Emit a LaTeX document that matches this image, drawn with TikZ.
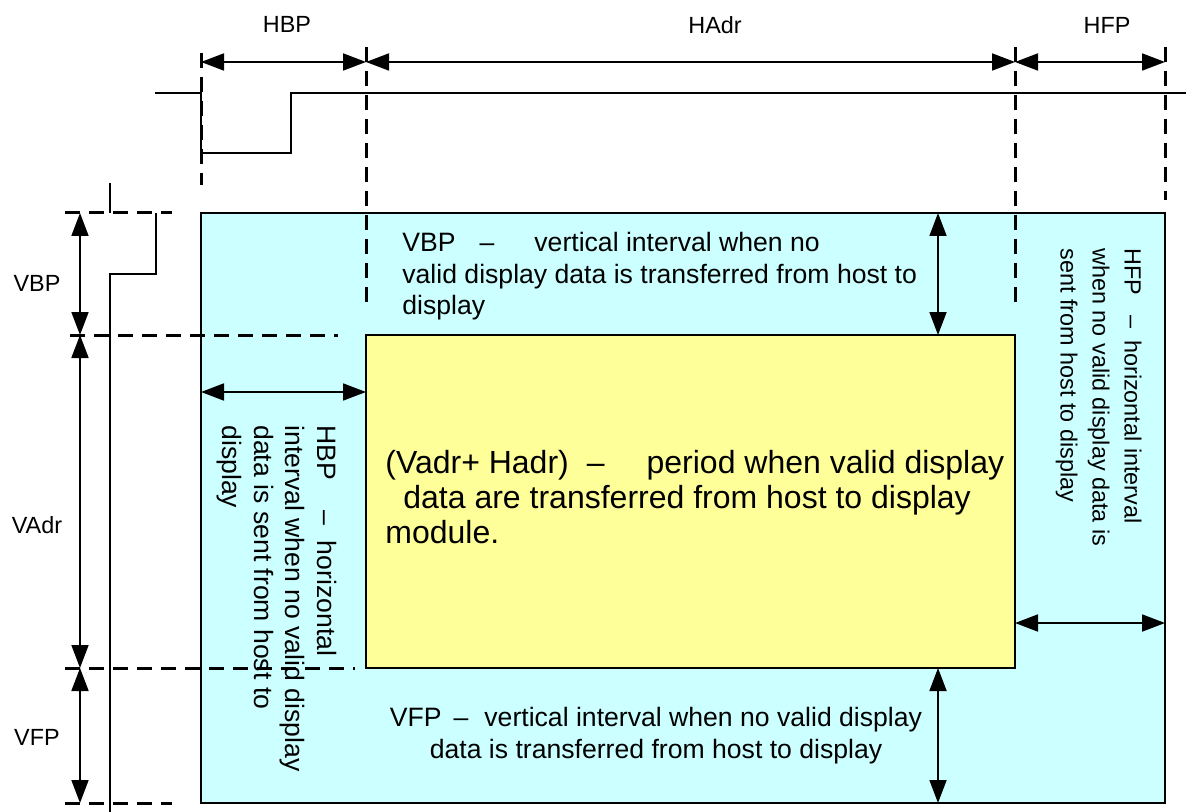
\documentclass[tikz,border=0pt]{standalone}
\usepackage{fontspec}
\setmainfont{Liberation Sans}
\usetikzlibrary{arrows.meta,positioning}

\definecolor{porchcyan}{RGB}{204,255,255}
\definecolor{activeyellow}{RGB}{255,255,153}

\begin{document}
\begin{tikzpicture}[x=0.5pt, y=-0.5pt,
    dim/.style={{Triangle[length=11.5pt,width=8.5pt]}-{Triangle[length=11.5pt,width=8.5pt]}, line width=0.9pt},
    guide/.style={line width=1.5pt, dash pattern=on 7.5pt off 4.5pt},
    signal/.style={line width=1pt},
    tag/.style={font=\fontsize{11.7}{14}\selectfont, inner sep=0pt},
    note/.style={font=\fontsize{13.3}{15.8}\selectfont, align=left, inner sep=0pt}]

\useasboundingbox (0,0) rectangle (1186,812);

\draw[fill=porchcyan, line width=0.9pt] (201,213) rectangle (1165,803);
\draw[fill=activeyellow, line width=0.9pt] (366,335) rectangle (1015,668);

\coordinate (h0) at (201,62);
\coordinate (h1) at (366,62);
\coordinate (h2) at (1015,62);
\coordinate (h3) at (1165,62);
\coordinate (v0) at (80,213);
\coordinate (v1) at (80,335);
\coordinate (v2) at (80,668);
\coordinate (v3) at (80,803);

% guides
\draw[guide] (201,53) -- (201,185);
\draw[guide] (366,47) -- (366,305);
\draw[guide] (1015,47) -- (1015,305);
\draw[guide] (1165,47) -- (1165,200);
\draw[guide] (65,213) -- (172,213);
\draw[guide] (70,335) -- (338,335);
\draw[guide] (65,668) -- (355,668);
\draw[guide] (65,803) -- (172,803);

% sync signals
\draw[signal] (155,93) -- (201,93) -- (201,153) -- (291,153) -- (291,93) -- (1186,93);
\draw[signal] (110,183) -- (110,213);
\draw[signal] (156,213) -- (156,274) -- (110,274) -- (110,812);

\draw[dim] (h0) -- (h1);
\draw[dim] (h1) -- (h2);
\draw[dim] (h2) -- (h3);
\draw[dim] (v0) -- (v1);
\draw[dim] (v1) -- (v2);
\draw[dim] (v2) -- (v3);

\node[tag] (hbp) at (287,24) {HBP};
\node[tag] (hadr) at (715,25) {HAdr};
\node[tag] (hfp) at (1107,25) {HFP};
\node[tag] (vbp) at (37,283) {VBP};
\node[tag] (vadr) at (37,525) {VAdr};
\node[tag] (vfp) at (37,737) {VFP};

\coordinate (vbp-a) at (938,213);
\coordinate (vbp-b) at (938,335);
\coordinate (vfp-a) at (938,668);
\coordinate (vfp-b) at (938,803);
\coordinate (hbp-a) at (201,392);
\coordinate (hbp-b) at (366,392);
\coordinate (hfp-a) at (1015,623);
\coordinate (hfp-b) at (1165,623);
\draw[dim] (vbp-a) -- (vbp-b);
\draw[dim] (vfp-a) -- (vfp-b);
\draw[dim] (hbp-a) -- (hbp-b);
\draw[dim] (hfp-a) -- (hfp-b);

\node[note, anchor=north west] (vbp-note) at (402,232)
  {VBP\hspace{12pt}–\hspace{20pt}vertical interval when no\\valid display data is transferred from host to\\display};
\node[note, align=center, anchor=north] (vfp-note) at (656,707)
  {VFP\hspace{6pt}–\hspace{8pt}vertical interval when no valid display\\data is transferred from host to display};
\node[note, rotate=-90, anchor=north west] (hbp-note) at (337,425)
  {HBP\hspace{15pt}–\hspace{8pt}horizontal\\interval when no valid display\\data is sent from host to\\display};
\node[note, font=\fontsize{11.7}{16}\selectfont, rotate=-90, anchor=north west] (hfp-note) at (1142,248)
  {HFP\hspace{10pt}–\hspace{6pt}horizontal interval\\when no valid display data is\\sent from host to display};
\node[note, font=\fontsize{16}{17.5}\selectfont, anchor=north west] (adr-note) at (385,450)
  {(Vadr+ Hadr)\hspace{9pt}–\hspace{21pt}period when valid display\\\hspace{9pt}data are transferred from host to display\\module.};
\end{tikzpicture}
\end{document}
